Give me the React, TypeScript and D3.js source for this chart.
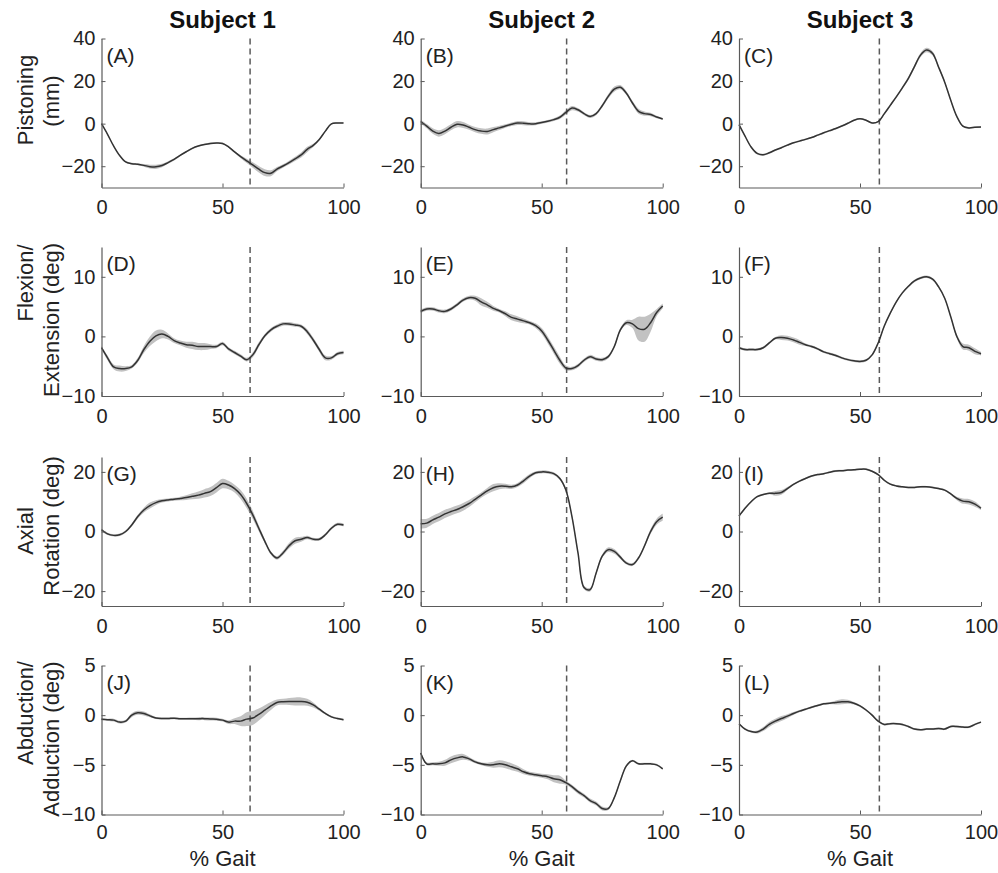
import React, { useEffect, useRef } from 'react';
import * as d3 from 'd3';

// % gait cycle sample positions shared by all panels
const gaitPct = [0, 2.5, 5, 7.5, 10, 12.5, 15, 17.5, 20, 22.5, 25, 27.5, 30, 32.5, 35, 37.5, 40, 42.5, 45, 47.5,
  50, 52.5, 55, 57.5, 60, 62.5, 65, 67.5, 70, 72.5, 75, 77.5, 80, 82.5, 85, 87.5, 90, 92.5, 95, 97.5, 100];

const subjects = ['Subject 1', 'Subject 2', 'Subject 3'];
const toeOff = [61.4, 60.3, 58.0];
const xTicks = [0, 50, 100];
const rowLabels = [['Pistoning', '(mm)'], ['Flexion/', 'Extension (deg)'], ['Axial', 'Rotation (deg)'], ['Abduction/', 'Adduction (deg)']];
const rowDomains = [[-30, 40], [-10, 15], [-25, 25], [-10, 5]];
const rowTicks = [[-20, 0, 20, 40], [-10, 0, 10], [-20, 0, 20], [-10, -5, 0, 5]];
const panelLetters = ['A', 'B', 'C', 'D', 'E', 'F', 'G', 'H', 'I', 'J', 'K', 'L'];

// Pistoning (mm)
const meanA = [0, -5, -10.5, -15, -18, -18.8, -19.1, -19.6, -20.2, -20.3, -19.7, -18.3, -16.8, -14.9, -13.2, -11.6, -10.5, -9.8, -9.3, -9.1,
  -9.3, -10.9, -13.3, -15.5, -17.5, -19.4, -21.4, -23, -23.3, -21.4, -19.9, -18.3, -16.5, -14.7, -12.1, -10.2, -7.4, -3.5, -0.1, 0.3, 0.3];
const sdA = [0.3, 0.3, 0.3, 0.3, 0.4, 0.4, 0.5, 0.6, 0.9, 1.0, 0.8, 0.6, 0.5, 0.4, 0.4, 0.4, 0.4, 0.4, 0.4, 0.4,
  0.4, 0.4, 0.5, 0.7, 1.0, 1.3, 1.5, 1.6, 1.4, 1.0, 0.8, 0.9, 1.0, 1.2, 1.3, 0.8, 0.5, 0.4, 0.3, 0.3, 0.3];
const meanB = [1, -1.2, -3.5, -4.6, -3.5, -1.7, -0.3, -0.6, -1.7, -2.8, -3.5, -3.7, -2.8, -2, -1.1, -0.3, 0.3, 0.2, -0.1, 0,
  0.5, 1.1, 1.9, 3, 5.3, 7.3, 6.5, 4.7, 3.4, 4.7, 8.4, 12.8, 16.2, 17.1, 14.3, 9.7, 5.8, 4.7, 4.3, 3.1, 2.2];
const sdB = [0.8, 1.0, 1.3, 1.5, 1.5, 1.4, 1.5, 1.4, 1.2, 1.2, 1.3, 1.4, 1.2, 1.0, 0.8, 0.8, 0.9, 0.9, 0.8, 0.7,
  0.6, 0.6, 0.6, 0.8, 1.0, 1.0, 0.8, 0.7, 0.7, 0.7, 0.8, 1.0, 1.2, 1.0, 0.9, 1.0, 1.2, 1.0, 0.8, 0.6, 0.5];
const meanC = [-0.5, -5.9, -11, -14, -14.6, -13.7, -12.4, -11.3, -10.1, -9, -8.2, -7.4, -6.5, -5.4, -4.3, -3.3, -2.3, -1.1, 0.2, 1.6,
  2.3, 1.6, 0.3, 0.9, 4.6, 8.6, 12.6, 16.8, 21.3, 26.8, 32.2, 34.6, 33, 26.5, 19.5, 11, 3.4, -1.2, -2, -1.7, -1.6];
const sdC = [0.4, 0.4, 0.5, 0.5, 0.5, 0.4, 0.4, 0.4, 0.4, 0.4, 0.4, 0.4, 0.4, 0.4, 0.4, 0.4, 0.4, 0.4, 0.4, 0.4,
  0.4, 0.4, 0.4, 0.4, 0.5, 0.6, 0.6, 0.7, 0.8, 0.9, 1.0, 1.1, 1.0, 0.8, 0.6, 0.5, 0.5, 0.4, 0.4, 0.4, 0.4];

// Flexion / extension (deg)
const meanD = [-1.9, -3.6, -5.1, -5.4, -5.4, -5.1, -4, -2.2, -0.8, 0.1, 0.4, 0, -0.7, -1.1, -1.4, -1.5, -1.7, -1.7, -1.7, -1.7,
  -1.2, -2.1, -2.7, -3.3, -3.9, -3.1, -1.4, 0.1, 1.1, 1.7, 2.1, 2.1, 1.9, 1.7, 0.8, -0.6, -2.2, -3.6, -3.6, -2.9, -2.7];
const sdD = [0.3, 0.4, 0.4, 0.5, 0.4, 0.3, 0.4, 0.6, 0.8, 0.9, 0.7, 0.5, 0.4, 0.4, 0.5, 0.6, 0.6, 0.6, 0.4, 0.3,
  0.3, 0.3, 0.3, 0.3, 0.3, 0.4, 0.4, 0.3, 0.3, 0.3, 0.3, 0.3, 0.3, 0.3, 0.4, 0.4, 0.4, 0.4, 0.3, 0.3, 0.3];
const meanE = [4.2, 4.6, 4.6, 4.3, 4.2, 4.6, 5.3, 6.1, 6.5, 6.4, 5.8, 5.3, 4.7, 4.3, 3.8, 3.2, 2.9, 2.6, 2.3, 1.8,
  0.9, -0.6, -2.3, -4, -5.3, -5.4, -4.9, -4, -3.4, -3.8, -3.9, -3.4, -1.7, 1.1, 2.3, 2.1, 1.3, 1.2, 2.3, 4.0, 5.1];
const sdE = [0.3, 0.3, 0.3, 0.3, 0.3, 0.3, 0.3, 0.3, 0.3, 0.4, 0.6, 0.5, 0.4, 0.3, 0.4, 0.5, 0.5, 0.4, 0.3, 0.4,
  0.5, 0.6, 0.6, 0.6, 0.4, 0.3, 0.3, 0.3, 0.3, 0.3, 0.3, 0.3, 0.3, 0.3, 0.4, 0.7, 2.0, 2.1, 1.5, 0.6, 0.4];
const meanF = [-1.9, -2.2, -2.2, -2.2, -1.9, -1.1, -0.3, -0.2, -0.3, -0.6, -1, -1.4, -1.7, -2.1, -2.6, -2.9, -3.2, -3.6, -3.9, -4.1,
  -4.2, -4, -3.1, -1.1, 1.7, 3.9, 5.8, 7.3, 8.4, 9.3, 9.8, 10, 9.6, 8.3, 6.4, 3.3, 0, -1.7, -1.9, -2.5, -2.9];
const sdF = [0.2, 0.2, 0.2, 0.2, 0.2, 0.2, 0.2, 0.4, 0.4, 0.4, 0.4, 0.2, 0.2, 0.2, 0.2, 0.2, 0.2, 0.2, 0.2, 0.2,
  0.2, 0.2, 0.2, 0.2, 0.2, 0.2, 0.2, 0.2, 0.2, 0.2, 0.2, 0.2, 0.2, 0.2, 0.2, 0.2, 0.3, 0.5, 0.5, 0.5, 0.3];

// Axial rotation (deg)
const meanG = [0.6, -0.8, -1.3, -1.1, 0, 2.2, 5, 7.2, 8.7, 9.7, 10.3, 10.6, 10.8, 11.1, 11.4, 11.8, 12.2, 12.8, 13.4, 14.7,
  16.1, 15.6, 14.4, 12.4, 9.4, 5.6, 1.1, -3.3, -7.2, -8.9, -7.2, -4.8, -3.1, -2.6, -2, -2.6, -2.6, -1.1, 1.1, 2.4, 2.2];
const sdG = [0.4, 0.4, 0.4, 0.4, 0.4, 0.5, 0.6, 0.8, 1.0, 0.8, 0.6, 0.5, 0.5, 0.6, 0.8, 1.0, 1.2, 1.4, 1.5, 1.6,
  1.6, 1.4, 1.3, 1.5, 1.6, 1.4, 1.0, 0.7, 0.6, 0.6, 0.7, 0.9, 1.0, 0.8, 0.6, 0.5, 0.5, 0.5, 0.5, 0.5, 0.5];
const meanH = [2.6, 2.8, 3.9, 4.8, 5.9, 6.7, 7.4, 8.3, 9.4, 10.8, 12.2, 13.6, 14.7, 15.2, 15.2, 15, 15.6, 17, 18.6, 19.7,
  20, 19.9, 19.4, 17.8, 13.9, 5, -7.2, -18.8, -19.5, -13.9, -8.3, -6.1, -6.7, -8.6, -10.6, -11.1, -8.9, -4.8, 0, 3.3, 4.8];
const sdH = [1.6, 1.5, 1.4, 1.4, 1.4, 1.3, 1.3, 1.3, 1.2, 1.0, 0.9, 1.0, 1.2, 1.0, 0.8, 0.7, 0.7, 0.8, 0.7, 0.5,
  0.5, 0.5, 0.5, 0.5, 0.6, 0.6, 0.6, 0.6, 0.6, 0.6, 0.6, 0.8, 0.8, 0.6, 0.5, 0.5, 0.5, 0.6, 0.8, 1.0, 1.2];
const meanI = [5.2, 7.8, 10, 11.7, 12.4, 12.8, 12.8, 13.1, 14.4, 15.8, 16.9, 17.8, 18.6, 19.1, 19.4, 19.9, 20.3, 20.4, 20.6, 20.7,
  20.9, 20.9, 20.2, 19.1, 17.2, 15.9, 15.3, 15, 14.8, 14.8, 15, 15, 14.8, 14.4, 13.9, 12.6, 11.1, 10.2, 10, 9.2, 7.8];
const sdI = [0.3, 0.3, 0.3, 0.3, 0.3, 0.3, 0.8, 0.8, 0.5, 0.3, 0.3, 0.3, 0.3, 0.3, 0.3, 0.3, 0.3, 0.3, 0.3, 0.3,
  0.3, 0.3, 0.3, 0.3, 0.3, 0.3, 0.3, 0.3, 0.3, 0.3, 0.3, 0.3, 0.3, 0.3, 0.3, 0.3, 0.6, 0.9, 0.9, 0.9, 0.6];

// Abduction / adduction (deg)
const meanJ = [-0.4, -0.45, -0.5, -0.7, -0.6, 0, 0.24, 0.17, -0.07, -0.28, -0.34, -0.34, -0.3, -0.35, -0.35, -0.35, -0.35, -0.35, -0.38, -0.4,
  -0.5, -0.7, -0.6, -0.6, -0.4, -0.28, 0.07, 0.5, 0.93, 1.28, 1.35, 1.38, 1.38, 1.38, 1.3, 1.03, 0.6, 0.17, -0.17, -0.34, -0.45];
const sdJ = [0.1, 0.1, 0.15, 0.15, 0.15, 0.2, 0.2, 0.2, 0.15, 0.1, 0.1, 0.1, 0.1, 0.1, 0.1, 0.12, 0.15, 0.15, 0.15, 0.15,
  0.15, 0.2, 0.3, 0.5, 0.7, 0.7, 0.6, 0.5, 0.4, 0.3, 0.3, 0.35, 0.4, 0.4, 0.35, 0.25, 0.15, 0.1, 0.1, 0.1, 0.1];
const meanK = [-3.8, -4.9, -4.9, -4.9, -4.8, -4.5, -4.3, -4.2, -4.4, -4.7, -4.9, -5, -5, -4.9, -5, -5.2, -5.4, -5.7, -5.9, -6,
  -6.1, -6.2, -6.4, -6.5, -6.8, -7.2, -7.7, -8.1, -8.6, -8.9, -9.4, -9.4, -8.3, -6.6, -5.1, -4.6, -4.9, -4.9, -4.9, -5, -5.4];
const sdK = [0.15, 0.15, 0.15, 0.2, 0.3, 0.35, 0.35, 0.3, 0.2, 0.15, 0.15, 0.2, 0.3, 0.35, 0.35, 0.35, 0.3, 0.25, 0.2, 0.2,
  0.2, 0.25, 0.35, 0.4, 0.2, 0.2, 0.2, 0.2, 0.2, 0.2, 0.2, 0.15, 0.15, 0.15, 0.15, 0.1, 0.1, 0.1, 0.1, 0.1, 0.1];
const meanL = [-0.86, -1.4, -1.65, -1.7, -1.4, -0.93, -0.6, -0.34, -0.1, 0.17, 0.41, 0.6, 0.8, 0.97, 1.14, 1.2, 1.28, 1.35, 1.35, 1.2,
  0.93, 0.52, 0, -0.6, -0.93, -0.86, -0.86, -0.93, -1.14, -1.4, -1.48, -1.4, -1.4, -1.35, -1.4, -1.14, -1.14, -1.2, -1.2, -0.93, -0.7];
const sdL = [0.1, 0.1, 0.1, 0.15, 0.2, 0.25, 0.25, 0.25, 0.2, 0.15, 0.12, 0.1, 0.1, 0.1, 0.1, 0.1, 0.2, 0.25, 0.2, 0.12,
  0.1, 0.1, 0.1, 0.1, 0.1, 0.1, 0.1, 0.1, 0.1, 0.1, 0.1, 0.1, 0.1, 0.1, 0.1, 0.1, 0.1, 0.1, 0.1, 0.1, 0.1];

const panelMeans = [meanA, meanB, meanC, meanD, meanE, meanF, meanG, meanH, meanI, meanJ, meanK, meanL];
const panelSds = [sdA, sdB, sdC, sdD, sdE, sdF, sdG, sdH, sdI, sdJ, sdK, sdL];

const App = () => {
  const ref = useRef(null);

  useEffect(() => {
    const font = '"Liberation Sans", Arial, Helvetica, sans-serif';
    const colLeft = [101.5, 420.7, 739];
    const rowTop = [38.5, 247, 457, 665.5];
    const plotW = 242;
    const plotH = 149;
    // vertical centre of each y-label line (first line, second line)
    const labelCentres = [[100, 101], [283, 320], [531, 526], [713, 739]];

    const svg = d3.select(ref.current);
    svg.selectAll('*').remove();

    subjects.forEach((s, c) => {
      svg.append('text')
        .attr('x', colLeft[c] + plotW / 2)
        .attr('y', 28)
        .attr('text-anchor', 'middle')
        .attr('font-family', font)
        .attr('font-weight', 'bold')
        .attr('font-size', 24)
        .attr('fill', '#111')
        .text(s);
    });

    rowLabels.forEach((lines, r) => {
      lines.forEach((t, i) => {
        svg.append('text')
          .attr('transform', `translate(${33 + i * 26},${labelCentres[r][i]}) rotate(-90)`)
          .attr('text-anchor', 'middle')
          .attr('font-family', font)
          .attr('font-size', 22)
          .attr('fill', '#222')
          .text(t);
      });
    });

    for (let r = 0; r < 4; r++) {
      for (let c = 0; c < 3; c++) {
        const i = r * 3 + c;
        const x = d3.scaleLinear().domain([0, 100]).range([colLeft[c], colLeft[c] + plotW]);
        const y = d3.scaleLinear().domain(rowDomains[r]).range([rowTop[r] + plotH, rowTop[r]]);
        const pts = gaitPct.map((p, k) => ({ p, m: panelMeans[i][k], s: panelSds[i][k] }));
        const g = svg.append('g');

        const area = d3.area()
          .x(d => x(d.p))
          .y0(d => y(d.m - d.s))
          .y1(d => y(d.m + d.s))
          .curve(d3.curveCatmullRom);
        const line = d3.line()
          .x(d => x(d.p))
          .y(d => y(d.m))
          .curve(d3.curveCatmullRom);

        g.append('path')
          .datum(pts)
          .attr('d', area)
          .attr('fill', '#c2c2c2');

        g.append('line')
          .attr('x1', x(toeOff[c])).attr('x2', x(toeOff[c]))
          .attr('y1', rowTop[r]).attr('y2', rowTop[r] + plotH)
          .attr('stroke', '#5a5a5a')
          .attr('stroke-width', 1.5)
          .attr('stroke-dasharray', '6,4');

        g.append('path')
          .datum(pts)
          .attr('d', line)
          .attr('fill', 'none')
          .attr('stroke', '#333')
          .attr('stroke-width', 1.5)
          .attr('stroke-linejoin', 'round');

        const xAxis = g.append('g')
          .attr('transform', `translate(0,${rowTop[r] + plotH})`)
          .call(d3.axisBottom(x).tickValues(xTicks).tickSize(-4).tickSizeOuter(0).tickPadding(r === 3 ? 10 : 12.5));
        const yAxis = g.append('g')
          .attr('transform', `translate(${colLeft[c]},0)`)
          .call(d3.axisLeft(y).tickValues(rowTicks[r]).tickSize(-4).tickSizeOuter(0).tickPadding(6));

        [xAxis, yAxis].forEach(a => {
          a.attr('font-family', font).attr('font-size', 20);
          a.select('.domain').attr('stroke', '#5a5a5a').attr('stroke-width', 1.2);
          a.selectAll('.tick line').attr('stroke', '#5a5a5a');
          a.selectAll('.tick text').attr('fill', '#222');
        });

        g.append('text')
          .attr('x', colLeft[c] + 5)
          .attr('y', rowTop[r] + 24)
          .attr('font-family', font)
          .attr('font-size', 21)
          .attr('fill', '#222')
          .text(`(${panelLetters[i]})`);

        if (r === 3) {
          g.append('text')
            .attr('x', colLeft[c] + plotW / 2)
            .attr('y', 866)
            .attr('text-anchor', 'middle')
            .attr('font-family', font)
            .attr('font-size', 22)
            .attr('fill', '#222')
            .text('% Gait');
        }
      }
    }
  }, []);

  return (
    <svg ref={ref} width={998} height={873} style={{ position: 'absolute', left: 0, top: 0, background: '#fff' }} />
  );
};

export default App;
